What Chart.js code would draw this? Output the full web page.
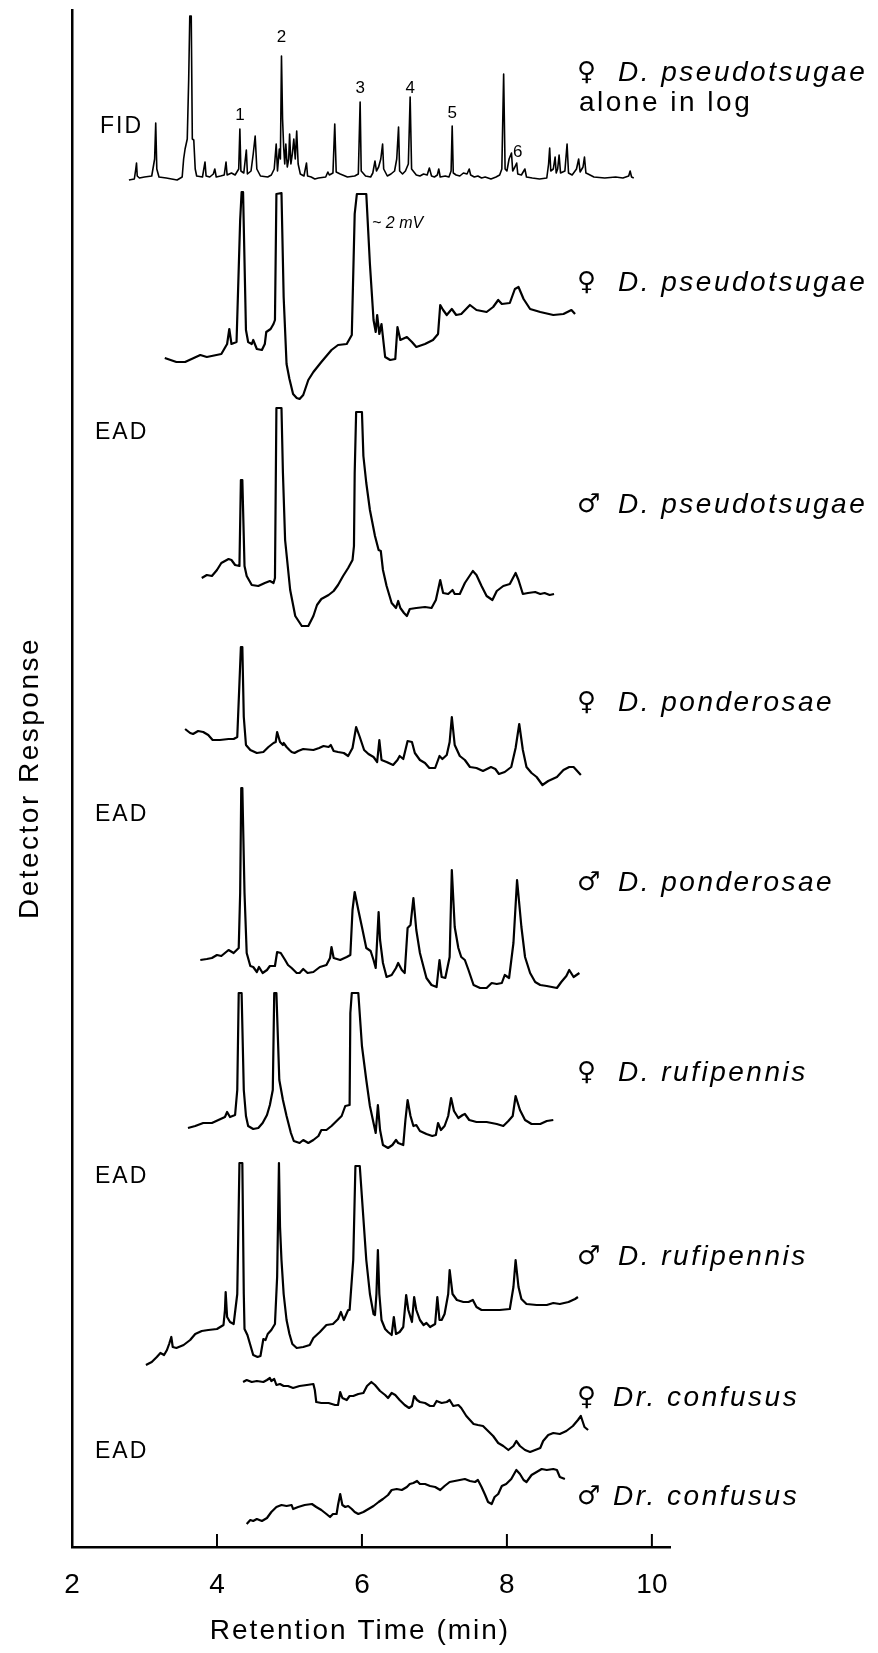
<!DOCTYPE html>
<html>
<head>
<meta charset="utf-8">
<title>GC-EAD traces</title>
<script src="https://cdn.jsdelivr.net/npm/chart.js@4.4.1/dist/chart.umd.min.js"></script>
<style>
  html, body { margin: 0; padding: 0; background: #fff; }
  #wrap { width: 878px; height: 1653px; }
</style>
</head>
<body>
<div id="wrap"><canvas id="chart" width="878" height="1653"></canvas></div>
<script>
// ---- data: [retention time (min), response above trace baseline] ----
const fidLog = [[2.785,-1],[2.86,0],[2.88,10],[2.89,16],[2.90,3],[2.93,1],[3.00,2],[3.10,3],[3.14,20],[3.155,56],[3.17,10],[3.20,2],[3.30,1],[3.45,-1],[3.52,2],[3.54,20],[3.56,30],[3.59,40],[3.61,100],[3.625,163],[3.645,163],[3.66,40],[3.68,39],[3.70,10],[3.72,3],[3.80,2],[3.835,17],[3.85,3],[3.90,2],[3.95,5],[3.97,10],[3.99,2],[4.05,3],[4.10,4],[4.125,17],[4.14,4],[4.20,6],[4.25,4],[4.30,10],[4.316,50],[4.33,8],[4.37,6],[4.405,29],[4.42,5],[4.47,8],[4.50,25],[4.527,43],[4.55,10],[4.60,3],[4.70,2],[4.75,4],[4.79,10],[4.817,35],[4.835,8],[4.86,30],[4.875,20],[4.89,123],[4.905,60],[4.92,32],[4.935,15],[4.95,35],[4.97,12],[4.99,20],[5.002,45],[5.02,15],[5.04,25],[5.06,40],[5.08,20],[5.10,48],[5.12,15],[5.15,5],[5.20,3],[5.235,16],[5.25,3],[5.30,2],[5.35,0],[5.40,1],[5.50,2],[5.53,7],[5.55,4],[5.60,6],[5.625,55],[5.645,7],[5.70,5],[5.80,2],[5.90,3],[5.95,5],[5.975,77],[5.99,8],[6.05,3],[6.12,2],[6.15,6],[6.18,18],[6.20,8],[6.23,12],[6.26,20],[6.285,35],[6.30,10],[6.35,3],[6.40,5],[6.45,8],[6.48,20],[6.505,52],[6.52,8],[6.56,5],[6.60,8],[6.64,15],[6.665,82],[6.685,10],[6.75,4],[6.80,3],[6.85,5],[6.90,4],[6.93,11],[6.96,3],[7.00,2],[7.04,4],[7.06,10],[7.08,2],[7.15,3],[7.20,2],[7.23,8],[7.245,53],[7.26,6],[7.30,4],[7.35,3],[7.40,6],[7.45,5],[7.48,10],[7.50,4],[7.55,2],[7.60,3],[7.65,1],[7.70,2],[7.78,0],[7.85,2],[7.90,4],[7.93,10],[7.955,105],[7.975,10],[8.00,8],[8.03,20],[8.063,26],[8.08,8],[8.11,12],[8.135,16],[8.15,5],[8.20,4],[8.248,10],[8.27,2],[8.35,1],[8.45,0],[8.55,1],[8.575,15],[8.59,31],[8.605,8],[8.64,10],[8.665,22],[8.68,6],[8.70,10],[8.72,24],[8.74,6],[8.80,8],[8.83,35],[8.85,6],[8.90,4],[8.96,10],[8.99,20],[9.01,7],[9.05,12],[9.07,22],[9.09,6],[9.12,5],[9.20,2],[9.35,1],[9.50,2],[9.60,1],[9.68,3],[9.70,8],[9.72,2],[9.75,1]];

const femPseudo = [[3.28,-1],[3.44,-5],[3.56,-5],[3.77,2],[3.86,0],[4.06,3],[4.14,13],[4.17,28],[4.20,13],[4.27,15],[4.32,137],[4.34,165],[4.36,165],[4.40,27],[4.43,15],[4.48,13],[4.50,17],[4.55,8],[4.62,7],[4.66,13],[4.68,25],[4.74,28],[4.78,33],[4.80,37],[4.82,163],[4.89,164],[4.92,60],[4.96,-7],[5.00,-22],[5.05,-37],[5.10,-41],[5.14,-42],[5.19,-38],[5.26,-23],[5.33,-15],[5.44,-5],[5.58,7],[5.67,12],[5.79,13],[5.86,22],[5.90,143],[5.93,163],[6.06,163],[6.11,93],[6.16,37],[6.19,25],[6.21,42],[6.24,23],[6.27,33],[6.32,0],[6.39,-3],[6.46,-2],[6.49,30],[6.53,17],[6.62,20],[6.69,15],[6.75,10],[6.87,13],[6.98,17],[7.05,23],[7.08,52],[7.12,47],[7.17,42],[7.24,48],[7.30,42],[7.37,43],[7.49,52],[7.58,47],[7.72,45],[7.81,50],[7.88,57],[7.93,53],[8.04,54],[8.11,68],[8.16,70],[8.23,58],[8.32,48],[8.46,45],[8.64,42],[8.78,43],[8.89,47],[8.94,43]];

const malePseudo = [[3.79,5],[3.86,8],[3.93,7],[4.00,13],[4.06,20],[4.16,24],[4.20,23],[4.25,18],[4.31,17],[4.33,103],[4.35,103],[4.38,17],[4.41,7],[4.48,-2],[4.57,-3],[4.66,0],[4.73,2],[4.78,0],[4.80,5],[4.82,175],[4.89,175],[4.91,110],[4.94,43],[5.01,-7],[5.08,-33],[5.17,-43],[5.26,-43],[5.33,-33],[5.38,-22],[5.44,-16],[5.54,-12],[5.61,-8],[5.67,-2],[5.74,7],[5.81,15],[5.87,23],[5.89,37],[5.90,110],[5.92,171],[6.00,171],[6.02,127],[6.06,100],[6.11,73],[6.18,47],[6.23,33],[6.26,32],[6.29,13],[6.34,-3],[6.41,-20],[6.47,-25],[6.50,-18],[6.53,-25],[6.58,-30],[6.62,-33],[6.66,-26],[6.75,-25],[6.87,-24],[6.96,-25],[7.02,-17],[7.05,-7],[7.08,3],[7.12,-10],[7.19,-11],[7.25,-7],[7.28,-11],[7.35,-11],[7.42,0],[7.53,12],[7.58,8],[7.65,-3],[7.72,-13],[7.80,-17],[7.86,-8],[7.95,-3],[8.04,-1],[8.12,10],[8.16,3],[8.22,-11],[8.29,-10],[8.39,-9],[8.46,-11],[8.52,-10],[8.59,-12],[8.65,-11]];

const femPonder = [[3.56,11],[3.63,7],[3.67,6],[3.74,9],[3.81,8],[3.88,5],[3.94,0],[4.04,0],[4.16,1],[4.23,1],[4.28,3],[4.31,57],[4.33,93],[4.35,93],[4.37,23],[4.40,-5],[4.46,-10],[4.55,-13],[4.64,-12],[4.71,-7],[4.78,-3],[4.81,-2],[4.83,8],[4.87,-2],[4.91,-5],[4.92,-3],[4.96,-7],[5.00,-10],[5.03,-12],[5.07,-13],[5.12,-11],[5.19,-9],[5.33,-10],[5.41,-8],[5.47,-6],[5.54,-7],[5.57,-5],[5.61,-11],[5.67,-12],[5.75,-13],[5.81,-16],[5.87,-8],[5.92,13],[5.97,3],[6.03,-10],[6.09,-14],[6.16,-17],[6.21,-22],[6.24,0],[6.27,-20],[6.34,-22],[6.43,-25],[6.49,-20],[6.52,-16],[6.57,-19],[6.63,-1],[6.69,-2],[6.73,-13],[6.80,-20],[6.87,-23],[6.93,-28],[7.01,-28],[7.07,-16],[7.11,-19],[7.17,-15],[7.21,-2],[7.24,23],[7.28,-5],[7.35,-16],[7.42,-20],[7.49,-27],[7.58,-28],[7.67,-31],[7.78,-27],[7.84,-29],[7.89,-34],[7.97,-32],[8.06,-27],[8.12,-8],[8.17,16],[8.22,-10],[8.27,-27],[8.34,-33],[8.41,-37],[8.49,-45],[8.57,-41],[8.69,-37],[8.78,-30],[8.86,-27],[8.92,-27],[9.02,-35]];

const malePonder = [[3.77,0],[3.86,1],[3.93,2],[4.00,5],[4.06,4],[4.16,10],[4.23,7],[4.30,12],[4.32,67],[4.335,172],[4.35,172],[4.38,67],[4.41,7],[4.46,-6],[4.50,-7],[4.55,-12],[4.58,-7],[4.63,-13],[4.69,-10],[4.73,-6],[4.80,-6],[4.83,8],[4.88,7],[4.94,0],[4.98,-5],[5.03,-8],[5.10,-13],[5.14,-13],[5.19,-9],[5.25,-13],[5.33,-12],[5.42,-7],[5.51,-5],[5.56,2],[5.58,13],[5.61,2],[5.70,0],[5.79,3],[5.84,5],[5.87,50],[5.90,68],[5.95,50],[6.00,33],[6.06,12],[6.12,9],[6.16,0],[6.19,-8],[6.23,48],[6.25,20],[6.29,-3],[6.34,-17],[6.41,-15],[6.47,-8],[6.50,-3],[6.55,-10],[6.59,-13],[6.63,32],[6.67,35],[6.71,62],[6.75,30],[6.80,7],[6.85,-7],[6.89,-18],[6.96,-25],[7.03,-27],[7.07,0],[7.10,-17],[7.15,-18],[7.21,3],[7.24,90],[7.28,33],[7.33,12],[7.37,3],[7.42,0],[7.47,-10],[7.54,-25],[7.63,-28],[7.72,-28],[7.79,-23],[7.86,-24],[7.93,-23],[7.97,-15],[8.03,-18],[8.09,17],[8.14,80],[8.20,33],[8.25,3],[8.32,-13],[8.39,-22],[8.46,-25],[8.55,-26],[8.62,-27],[8.69,-28],[8.75,-22],[8.82,-16],[8.86,-10],[8.92,-17],[9.00,-13]];

const femRufi = [[3.60,-5],[3.70,-3],[3.81,0],[3.93,0],[4.02,3],[4.11,6],[4.14,11],[4.18,6],[4.25,8],[4.28,33],[4.30,130],[4.34,130],[4.37,33],[4.40,7],[4.43,-3],[4.50,-6],[4.57,-5],[4.63,0],[4.69,8],[4.73,18],[4.77,33],[4.79,130],[4.82,130],[4.86,43],[4.91,23],[4.96,7],[5.02,-10],[5.06,-18],[5.14,-20],[5.19,-17],[5.26,-20],[5.33,-17],[5.40,-13],[5.44,-7],[5.51,-7],[5.58,-3],[5.65,2],[5.72,7],[5.77,17],[5.83,18],[5.84,110],[5.86,130],[5.95,130],[6.00,77],[6.06,43],[6.11,17],[6.16,0],[6.19,-10],[6.22,18],[6.25,-7],[6.29,-22],[6.36,-25],[6.42,-22],[6.47,-17],[6.50,-20],[6.57,-22],[6.60,3],[6.63,23],[6.67,7],[6.71,-3],[6.75,-2],[6.80,-8],[6.89,-11],[6.97,-13],[7.02,-12],[7.05,0],[7.09,-7],[7.14,-3],[7.19,7],[7.23,25],[7.27,12],[7.33,5],[7.39,8],[7.42,9],[7.48,3],[7.58,1],[7.72,1],[7.86,-1],[7.95,-3],[8.02,2],[8.08,7],[8.12,27],[8.18,13],[8.25,3],[8.34,-1],[8.46,-1],[8.55,2],[8.64,3]];

const maleRufi = [[3.02,-38],[3.10,-35],[3.17,-30],[3.22,-26],[3.27,-28],[3.31,-23],[3.34,-17],[3.37,-10],[3.39,-20],[3.44,-21],[3.54,-18],[3.63,-13],[3.70,-7],[3.79,-4],[3.88,-3],[4.00,-2],[4.09,2],[4.11,17],[4.12,35],[4.14,10],[4.18,5],[4.23,3],[4.28,33],[4.31,164],[4.35,164],[4.37,33],[4.38,-2],[4.42,-8],[4.46,-18],[4.50,-28],[4.56,-30],[4.60,-29],[4.64,-12],[4.67,-13],[4.70,-7],[4.75,-3],[4.80,3],[4.83,50],[4.855,164],[4.87,100],[4.89,67],[4.92,33],[4.96,7],[5.00,-7],[5.04,-17],[5.10,-21],[5.19,-20],[5.28,-18],[5.33,-11],[5.42,-5],[5.51,2],[5.60,3],[5.67,8],[5.71,15],[5.75,7],[5.81,17],[5.83,17],[5.88,67],[5.91,161],[5.97,161],[6.06,67],[6.11,33],[6.16,13],[6.18,12],[6.20,33],[6.22,77],[6.24,33],[6.27,7],[6.32,-2],[6.36,-5],[6.41,-8],[6.44,10],[6.47,-7],[6.52,-5],[6.57,0],[6.61,32],[6.64,17],[6.69,5],[6.72,30],[6.75,17],[6.80,7],[6.85,2],[6.89,4],[6.94,0],[7.01,3],[7.04,30],[7.07,7],[7.10,7],[7.14,13],[7.19,33],[7.21,57],[7.25,33],[7.31,27],[7.40,25],[7.47,25],[7.53,27],[7.58,20],[7.65,17],[7.77,17],[7.90,17],[8.04,18],[8.09,40],[8.12,67],[8.16,40],[8.20,28],[8.27,23],[8.41,22],[8.55,22],[8.64,24],[8.73,23],[8.85,25],[8.94,28],[8.98,30]];

const femConf = [[4.36,1],[4.41,3],[4.48,1],[4.55,2],[4.64,1],[4.69,3],[4.73,5],[4.75,2],[4.79,4],[4.82,-2],[4.87,-1],[4.92,-3],[4.98,-3],[5.05,-5],[5.14,-3],[5.24,-2],[5.33,-1],[5.35,-7],[5.37,-19],[5.44,-20],[5.54,-20],[5.63,-22],[5.67,-22],[5.70,-9],[5.73,-15],[5.79,-17],[5.83,-13],[5.88,-13],[5.95,-11],[6.02,-10],[6.07,-3],[6.13,1],[6.18,-2],[6.25,-8],[6.32,-12],[6.36,-15],[6.41,-10],[6.46,-12],[6.52,-17],[6.59,-22],[6.65,-25],[6.69,-23],[6.72,-13],[6.76,-17],[6.80,-19],[6.87,-20],[6.94,-23],[6.99,-23],[7.03,-18],[7.10,-20],[7.17,-19],[7.21,-17],[7.26,-23],[7.33,-22],[7.37,-25],[7.44,-33],[7.54,-41],[7.60,-42],[7.67,-43],[7.74,-48],[7.81,-53],[7.88,-60],[7.95,-63],[8.02,-67],[8.09,-63],[8.13,-58],[8.18,-63],[8.25,-67],[8.32,-69],[8.39,-67],[8.46,-65],[8.50,-58],[8.57,-52],[8.64,-50],[8.73,-51],[8.82,-48],[8.91,-43],[8.98,-37],[9.02,-33],[9.07,-44],[9.12,-47]];

const maleConf = [[4.41,-17],[4.46,-13],[4.50,-14],[4.55,-12],[4.62,-14],[4.69,-11],[4.75,-5],[4.82,0],[4.89,2],[4.96,1],[5.03,2],[5.05,-2],[5.12,0],[5.21,2],[5.31,3],[5.37,0],[5.44,-3],[5.51,-7],[5.56,-10],[5.60,-7],[5.65,-7],[5.67,2],[5.70,13],[5.73,2],[5.77,0],[5.81,1],[5.86,-2],[5.90,-5],[5.95,-7],[6.02,-5],[6.09,-2],[6.16,1],[6.23,5],[6.29,8],[6.36,12],[6.41,17],[6.48,18],[6.55,17],[6.62,20],[6.66,23],[6.71,24],[6.76,26],[6.80,23],[6.87,23],[6.94,21],[7.01,20],[7.08,17],[7.14,21],[7.21,25],[7.28,26],[7.35,27],[7.42,28],[7.49,26],[7.56,25],[7.60,27],[7.65,20],[7.70,12],[7.74,5],[7.79,3],[7.83,10],[7.88,13],[7.93,21],[7.99,23],[8.06,28],[8.13,37],[8.18,33],[8.23,27],[8.27,25],[8.34,32],[8.41,35],[8.48,38],[8.55,37],[8.64,38],[8.69,37],[8.73,30],[8.80,28]];

const traces = [fidLog, femPseudo, malePseudo, femPonder, malePonder, femRufi, maleRufi, femConf, maleConf];
// vertical stacking of each trace's baseline (response units above the time axis)
const traceOffsets = [1368, 1190, 964, 807, 587, 424, 220, 164, 40];

const xTicks = [2, 4, 6, 8, 10];
const sexes = ['\u2640', '', '\u2640', '\u2642', '\u2640', '\u2642', '\u2640', '\u2642', '\u2640', '\u2642'];
const speciesNames = ['D. pseudotsugae', 'alone in log', 'D. pseudotsugae', 'D. pseudotsugae',
  'D. ponderosae', 'D. ponderosae', 'D. rufipennis', 'D. rufipennis', 'Dr. confusus', 'Dr. confusus'];
const detectorNames = ['FID', 'EAD', 'EAD', 'EAD', 'EAD'];
// FID peak numbers: [label, time, height of label centre above baseline]
const peakTags = [['1', 4.316, 64], ['2', 4.89, 142], ['3', 5.975, 91], ['4', 6.665, 91], ['5', 7.245, 66], ['6', 8.15, 27]];

// ---- layout of the text annotations (pixels) ----
const speciesY = [73, 103, 283, 505, 703, 883, 1073, 1257, 1398, 1497];
const detectorY = [127, 433, 815, 1177, 1452];

const FONT = '"Liberation Sans", Arial, Helvetica, sans-serif';

const annotate = {
  id: 'annotate',
  afterDraw(chart) {
    const { ctx, scales: { x, y } } = chart;
    ctx.save();
    ctx.fillStyle = '#000';
    ctx.strokeStyle = '#000';

    // tick marks point up into the plot
    ctx.lineWidth = 2;
    const bottom = y.getPixelForValue(y.min);
    xTicks.slice(1).forEach(v => {
      const px = x.getPixelForValue(v);
      ctx.beginPath();
      ctx.moveTo(px, bottom);
      ctx.lineTo(px, bottom - 13);
      ctx.stroke();
    });

    // axis titles
    ctx.textBaseline = 'middle';
    ctx.textAlign = 'center';
    ctx.letterSpacing = '2px';
    ctx.font = '28px ' + FONT;
    ctx.fillText('Retention Time (min)', 360, 1631);
    ctx.save();
    ctx.translate(30, 778);
    ctx.rotate(-Math.PI / 2);
    ctx.letterSpacing = '2.5px';
    ctx.fillText('Detector Response', 0, 0);
    ctx.restore();

    // species labels on the right
    ctx.textAlign = 'left';
    speciesNames.forEach((name, i) => {
      const yy = speciesY[i];
      ctx.letterSpacing = '0px';
      if (sexes[i]) {
        ctx.font = '26px "DejaVu Sans", sans-serif';
        ctx.fillText(sexes[i], 577, yy);
      }
      ctx.letterSpacing = '2.5px';
      if (sexes[i]) {
        ctx.font = 'italic 28px ' + FONT;
        ctx.fillText(name, name.startsWith('Dr') ? 613 : 618, yy);
      } else {
        ctx.font = '28px ' + FONT;
        ctx.fillText(name, 579, yy);
      }
    });

    // detector labels
    ctx.font = '23px ' + FONT;
    ctx.letterSpacing = '2px';
    detectorNames.forEach((d, i) => ctx.fillText(d, d === 'FID' ? 100 : 95, detectorY[i]));

    // FID peak numbers
    ctx.font = '17px ' + FONT;
    ctx.letterSpacing = '0px';
    ctx.textAlign = 'center';
    peakTags.forEach(([lab, t, h]) => {
      ctx.fillText(lab, x.getPixelForValue(t), y.getPixelForValue(traceOffsets[0] + h));
    });

    // scale note beside the clipped peak
    ctx.textAlign = 'left';
    ctx.font = 'italic 16px ' + FONT;
    ctx.fillText('~ 2 mV', 372, 224);
    ctx.restore();
  }
};

const datasets = traces.map((pts, i) => ({
  data: pts.map(([t, r]) => ({ x: t, y: r + traceOffsets[i] })),
  borderColor: '#000',
  borderWidth: i === 0 ? 1.6 : 2.2,
  borderJoinStyle: 'round',
  pointRadius: 0,
  tension: 0,
  fill: false
}));

Chart.defaults.font.family = FONT;
Chart.defaults.color = '#000';

new Chart(document.getElementById('chart'), {
  type: 'line',
  data: { datasets },
  options: {
    responsive: false,
    animation: false,
    events: [],
    layout: { padding: { left: 72, right: 208, top: 10, bottom: 46 } },
    plugins: { legend: { display: false }, tooltip: { enabled: false } },
    scales: {
      x: {
        type: 'linear',
        min: 2,
        max: 10.25,
        afterBuildTicks: axis => { axis.ticks = xTicks.map(v => ({ value: v })); },
        afterFit: axis => { axis.height = 60; },
        grid: { display: false, drawTicks: false },
        border: { display: true, color: '#000', width: 2.5 },
        ticks: { font: { size: 28 }, color: '#000', padding: 21, maxRotation: 0 }
      },
      y: {
        type: 'linear',
        min: 0,
        max: 1537,
        afterFit: axis => { axis.width = 0; },
        grid: { display: false, drawTicks: false },
        border: { display: true, color: '#000', width: 2.5 },
        ticks: { display: false }
      }
    }
  },
  plugins: [annotate]
});
</script>
</body>
</html>
